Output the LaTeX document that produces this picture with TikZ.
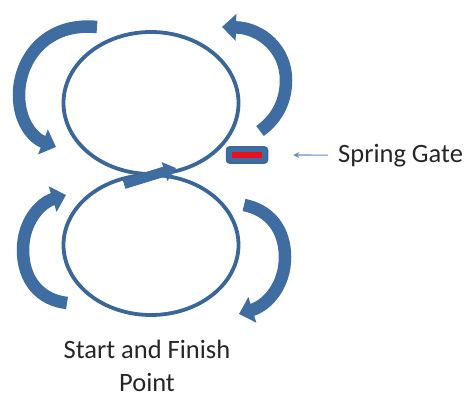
\documentclass[tikz,border=0pt]{standalone}
\usepackage{fontspec}
\setmainfont{Carlito}
\usetikzlibrary{arrows.meta,shapes.geometric}

\definecolor{loopblue}{HTML}{3B6798}
\definecolor{bendblue}{HTML}{3F6DA2}
\definecolor{gatered}{HTML}{E8101A}
\definecolor{pointblue}{HTML}{5E8FCB}

\tikzset{
  loopring/.style={ellipse,draw=loopblue,line width=3.8pt,minimum width=175pt,minimum height=142pt,inner sep=0pt},
  bendarrow/.style={draw=bendblue,line width=12.5pt,-{Triangle[width=26pt,length=14pt]}},
  lbltext/.style={font=\fontsize{26.5}{33}\selectfont,text=black!85,inner sep=0pt}
}

\begin{document}
\begin{tikzpicture}[x=1pt,y=-1pt]
        \useasboundingbox (0,0) rectangle (465,398);

        % the two loops of the eight
        \node[loopring] (upper) at (151,103) {};
        \node[loopring,minimum height=140pt] (lower) at (151,245) {};

        % crossing arrow in the middle
        \draw[draw=bendblue,line width=10pt,-{Triangle[width=19pt,length=12pt]}] (124,184) -- (176,168);

        % curved arrows round the loops
        \draw[bendarrow] (97,27) .. controls (45,22) and (19,60) .. (19,95) .. controls (19,122) and (33,138) .. (56,147);
        \draw[bendarrow] (260,131) .. controls (278,118) and (286,100) .. (286,80) .. controls (286,50) and (262,28) .. (222,27);
        \draw[bendarrow] (67,303) .. controls (40,300) and (23,280) .. (23,250) .. controls (23,222) and (40,203) .. (66,195);
        \draw[bendarrow] (244,205) .. controls (270,210) and (285,230) .. (285,257) .. controls (285,285) and (268,305) .. (239,314);

        % spring gate
        \node[draw=loopblue,fill=bendblue,line width=1.5pt,rounded corners=3pt,minimum width=41pt,minimum height=16pt,inner sep=0pt] (gate) at (247,155) {};
        \fill[gatered] (232,152.5) rectangle (262,158);
        \node[lbltext,anchor=base west] (gatelbl) at (338,162) {Spring Gate};
        \draw[pointblue,line width=1.2pt,-{Stealth[length=6pt,width=6pt]},shorten <=10pt,shorten >=25pt] (gatelbl.west) -- (gate.east);

        \node[lbltext,align=center,anchor=north] (startlbl) at (147,340) {Start and Finish\\Point};
      \end{tikzpicture}
\end{document}
